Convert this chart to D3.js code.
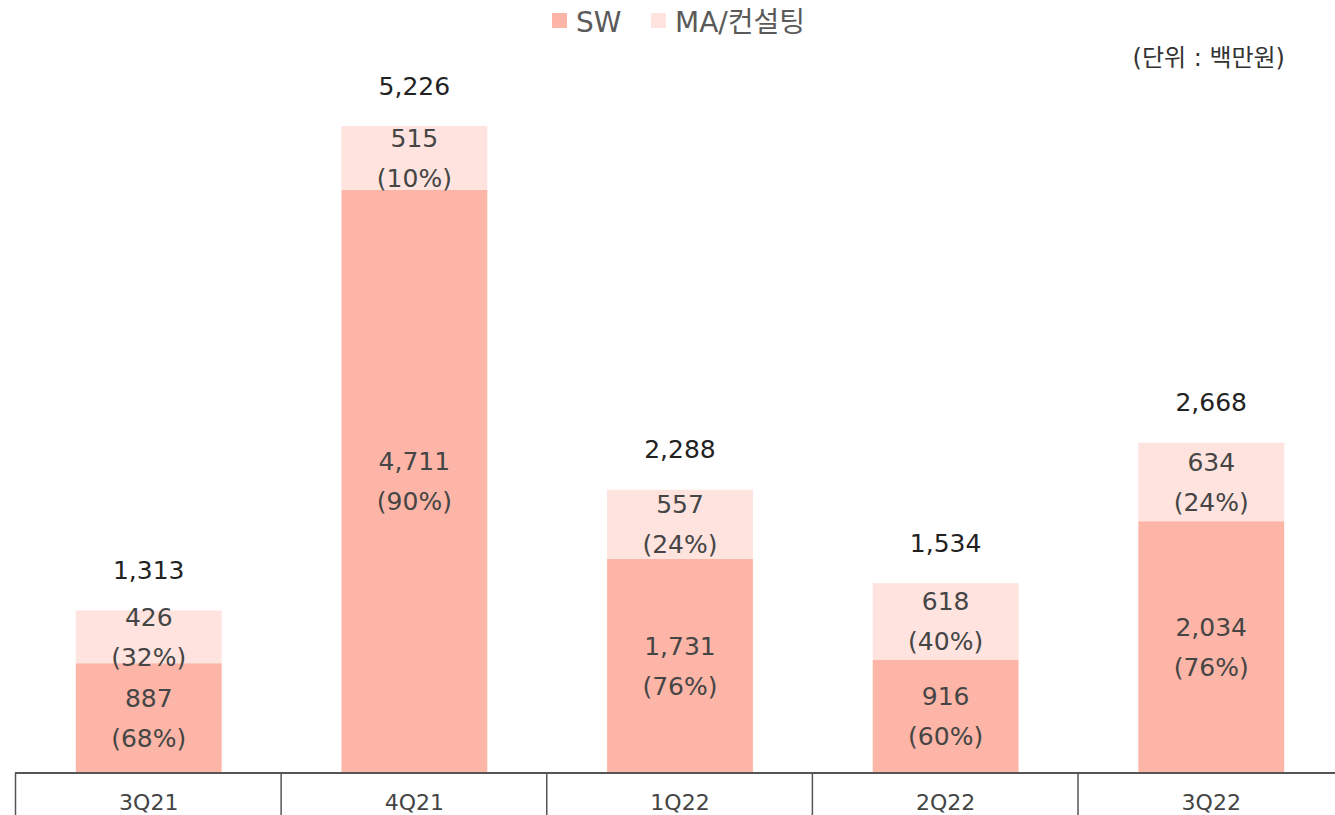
<!DOCTYPE html>
<html>
<head>
<meta charset="utf-8">
<script src="https://cdn.jsdelivr.net/npm/d3@7"></script>
<style>
  body { margin: 0; background: #fff; }
  svg { display: block; font-family: "DejaVu Sans", "Noto Sans CJK KR", sans-serif; }
</style>
</head>
<body>
<svg id="chart"></svg>
<script>
// quarters and values (백만원)
const quarters = ['3Q21', '4Q21', '1Q22', '2Q22', '3Q22'];
const sw = [887, 4711, 1731, 916, 2034];
const ma = [426, 515, 557, 618, 634];
const swPct = ['68%', '90%', '76%', '60%', '76%'];
const maPct = ['32%', '10%', '24%', '40%', '24%'];
const totals = [1313, 5226, 2288, 1534, 2668];
const seriesNames = ['SW', 'MA/컨설팅'];

const colors = { SW: '#fdb5a7', MA: '#ffe3df' };

const W = 1335, H = 815;
const margin = { left: 15, top: 126, bottom: 42 };
const baseY = H - margin.bottom;

const svg = d3.select('#chart').attr('width', W).attr('height', H);

const x = d3.scaleBand()
  .domain(quarters)
  .range([margin.left, margin.left + 266 * 5])
  .paddingInner(0.451)
  .paddingOuter(0.229);

const y = d3.scaleLinear()
  .domain([0, d3.max(totals)])
  .range([baseY, margin.top]);

const rows = quarters.map((q, i) => ({ q, sw: sw[i], ma: ma[i], swPct: swPct[i], maPct: maPct[i], total: totals[i] }));

// bars
const g = svg.append('g');
g.selectAll('rect.sw')
  .data(rows)
  .enter().append('rect')
  .attr('x', d => x(d.q))
  .attr('width', x.bandwidth())
  .attr('y', d => y(d.sw))
  .attr('height', d => y(0) - y(d.sw))
  .attr('fill', colors.SW);

g.selectAll('rect.ma')
  .data(rows)
  .enter().append('rect')
  .attr('x', d => x(d.q))
  .attr('width', x.bandwidth())
  .attr('y', d => y(d.sw + d.ma))
  .attr('height', d => y(d.sw) - y(d.sw + d.ma))
  .attr('fill', colors.MA);

const fmt = d3.format(',');

// segment labels: value on one line, share below
function segLabel(sel, mid, val, pct) {
  sel.append('text')
    .attr('x', d => x(d.q) + x.bandwidth() / 2)
    .attr('y', d => mid(d) - 20)
    .attr('dy', '0.35em')
    .text(d => fmt(val(d)));
  sel.append('text')
    .attr('x', d => x(d.q) + x.bandwidth() / 2)
    .attr('y', d => mid(d) + 20)
    .attr('dy', '0.35em')
    .text(d => `(${pct(d)})`);
}

const labels = svg.append('g')
  .attr('text-anchor', 'middle')
  .attr('font-size', 25)
  .attr('fill', '#454545');

const swLab = labels.selectAll('g.sw').data(rows).enter().append('g');
segLabel(swLab, d => (y(0) + y(d.sw)) / 2, d => d.sw, d => d.swPct);
const maLab = labels.selectAll('g.ma').data(rows).enter().append('g');
segLabel(maLab, d => (y(d.sw) + y(d.sw + d.ma)) / 2, d => d.ma, d => d.maPct);

// totals
svg.append('g')
  .attr('text-anchor', 'middle')
  .attr('font-size', 25)
  .attr('fill', '#222')
  .selectAll('text')
  .data(rows)
  .enter().append('text')
  .attr('x', d => x(d.q) + x.bandwidth() / 2)
  .attr('y', d => y(d.total) - 40)
  .attr('dy', '0.35em')
  .text(d => fmt(d.total));

// category axis with divider lines
const axis = svg.append('g');
axis.append('line')
  .attr('x1', margin.left).attr('x2', W)
  .attr('y1', baseY).attr('y2', baseY)
  .attr('stroke', '#555').attr('stroke-width', 2);
const step = x.step();
axis.selectAll('line.div')
  .data(d3.range(quarters.length))
  .enter().append('line')
  .attr('x1', i => margin.left + i * step + 0.5)
  .attr('x2', i => margin.left + i * step + 0.5)
  .attr('y1', baseY).attr('y2', H)
  .attr('stroke', '#555').attr('stroke-width', 1.5);
axis.selectAll('text')
  .data(quarters)
  .enter().append('text')
  .attr('x', d => x(d) + x.bandwidth() / 2)
  .attr('y', 802)
  .attr('dy', '0.35em')
  .attr('text-anchor', 'middle')
  .attr('font-size', 22)
  .attr('fill', '#444')
  .text(d => d);

// legend
const legend = svg.append('g').attr('font-size', 28).attr('fill', '#5a5a5a');
const legendX = [552, 651];
seriesNames.forEach((name, i) => {
  legend.append('rect')
    .attr('x', legendX[i]).attr('y', 13)
    .attr('width', 15).attr('height', 15)
    .attr('fill', i === 0 ? colors.SW : colors.MA);
  legend.append('text')
    .attr('x', legendX[i] + 24).attr('y', 22)
    .attr('dy', '0.35em')
    .text(name);
});

// unit
svg.append('text')
  .attr('x', 1285).attr('y', 58)
  .attr('dy', '0.35em')
  .attr('text-anchor', 'end')
  .attr('font-size', 24)
  .attr('fill', '#333')
  .text('(단위 : 백만원)');
</script>
</body>
</html>
